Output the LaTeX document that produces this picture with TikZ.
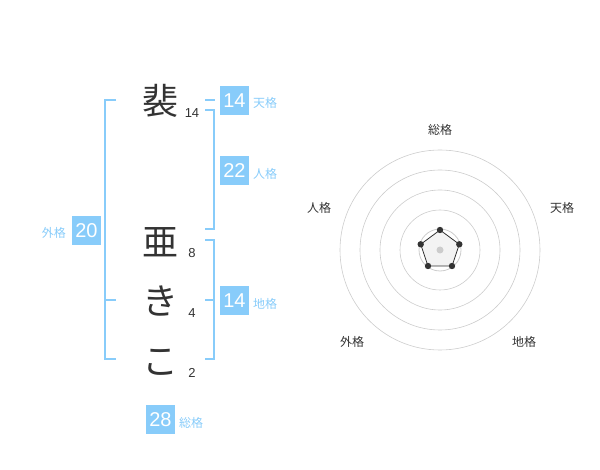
\documentclass[tikz,border=0pt]{standalone}
\usepackage{fontspec}
\setmainfont{Liberation Sans}
\newfontfamily\jp{Noto Sans CJK JP}
\definecolor{kblue}{HTML}{88CCFA}
\definecolor{kbox}{HTML}{88CCFA}
\definecolor{ktext}{HTML}{333333}
\definecolor{kgrid}{HTML}{CCCCCC}
\begin{document}
\begin{tikzpicture}[x=1pt,y=-1pt,
  kanji/.style={font=\jp\fontsize{36}{36}\selectfont,text=ktext,inner sep=0pt},
  stroke/.style={font=\fontsize{13}{13}\selectfont,text=ktext,inner sep=0pt},
  numbox/.style={fill=kbox,text=white,minimum width=29pt,minimum height=29pt,inner sep=0pt,font=\fontsize{20}{20}\selectfont},
  kaku/.style={font=\jp\fontsize{12}{12}\selectfont,text=kblue,inner sep=0pt,anchor=west},
  rlabel/.style={font=\jp\fontsize{12}{12}\selectfont,text=ktext,inner sep=0pt},
  brk/.style={draw=kblue,line width=2pt},
  grid/.style={draw=kgrid,line width=0.6pt}]
\useasboundingbox (0,0) rectangle (600,470);
% characters
\node[kanji] (c1) at (160,101) {裴};
\node[kanji] (c2) at (160,242) {亜};
\node[kanji] (c3) at (160,301) {き};
\node[kanji] (c4) at (160,362) {こ};
\node[stroke] (s1) at (192,113) {14};
\node[stroke] (s2) at (192,253) {8};
\node[stroke] (s3) at (192,313) {4};
\node[stroke] (s4) at (192,373) {2};
% brackets
\draw[brk] (116,100) -- (105,100) -- (105,359) -- (116,359);
\draw[brk] (105,300) -- (116,300);
\draw[brk] (205,100) -- (215,100);
\draw[brk] (205,110) -- (214,110) -- (214,229) -- (205,229);
\draw[brk] (205,240) -- (214,240) -- (214,359) -- (205,359);
\draw[brk] (205,300) -- (214,300);
% boxes
\node[numbox] (b1) at (234.5,100.5) {14};
\node[kaku] (l1) at (253,103) {天格};
\node[numbox] (b2) at (234.5,170.5) {22};
\node[kaku] (l2) at (253,174) {人格};
\node[numbox] (b3) at (86.5,230.5) {20};
\node[kaku,anchor=east] (l3) at (66,233) {外格};
\node[numbox] (b4) at (234.5,300.5) {14};
\node[kaku] (l4) at (253,304) {地格};
\node[numbox] (b5) at (160.5,419.5) {28};
\node[kaku] (l5) at (179,423) {総格};
% radar
\coordinate (O) at (440,250);
\foreach \r in {40,60,80,100} \draw[grid] (O) circle[radius=\r];
\draw[draw=kgrid,line width=0.8pt] (O) circle[radius=21];
\coordinate (p1) at (440,230);
\coordinate (p2) at (459.3,244.3);
\coordinate (p3) at (452,266);
\coordinate (p4) at (428,266);
\coordinate (p5) at (420.7,244.3);
\filldraw[fill=black!8,fill opacity=0.6,draw=ktext,line width=0.8pt] (p1) -- (p2) -- (p3) -- (p4) -- (p5) -- cycle;
\fill[kgrid] (O) circle[radius=3.5];
\foreach \p in {p1,p2,p3,p4,p5} \fill[ktext] (\p) circle[radius=3.2];
\node[rlabel] (r1) at (440,130) {総格};
\node[rlabel] (r2) at (562,208) {天格};
\node[rlabel] (r3) at (319,208) {人格};
\node[rlabel] (r4) at (352,342) {外格};
\node[rlabel] (r5) at (524,342) {地格};
\end{tikzpicture}
\end{document}
